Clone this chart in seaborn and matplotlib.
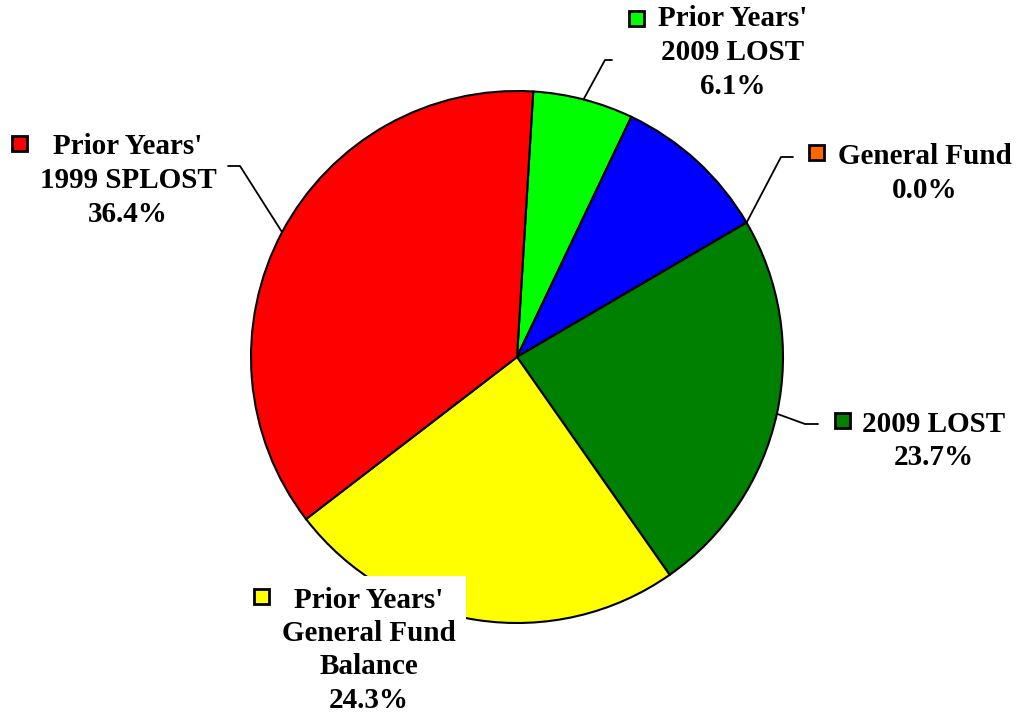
import matplotlib
matplotlib.use("Agg")
import matplotlib.pyplot as plt
import seaborn as sns
import numpy as np
from matplotlib.patches import Rectangle
from matplotlib.lines import Line2D

# Funding sources (percent of total), clockwise from the top
sources = ["Prior Years'\n2009 LOST", "Other", "General Fund", "2009 LOST",
           "Prior Years'\nGeneral Fund\nBalance", "Prior Years'\n1999 SPLOST"]
shares = [6.1, 9.5, 0.0, 23.7, 24.3, 36.4]
show_label = [True, False, True, True, True, True]
colors = ["#00FF00", "#0000FF", "#FF6600", "#008000", "#FFFF00", "#FF0000"]

sns.set_style("white")
plt.rcParams["font.family"] = ["Liberation Serif", "DejaVu Serif"]

W, H = 1016, 715
fig = plt.figure(figsize=(W / 100, H / 100), dpi=100)
fig.patch.set_facecolor("white")


def px(x, y):
    """Pixel position (origin top-left) to figure fraction."""
    return x / W, 1 - y / H


cx, cy, r = 517, 357, 266
ax = fig.add_axes([(cx - r) / W, (H - cy - r) / H, 2 * r / W, 2 * r / H])
wedges, _ = ax.pie(shares, colors=colors, startangle=86.5, counterclock=False,
                   wedgeprops=dict(edgecolor="black", linewidth=1.5))
ax.set_xlim(-1, 1)
ax.set_ylim(-1, 1)
ax.axis("off")

# label layout: marker centre, text centre x, first line centre y, leader knee/end
layout = {
    0: dict(marker=(636, 18), tx=733, ty=17, knee=(605, 60), end=(612, 60)),
    2: dict(marker=(816, 152), tx=925, ty=155, knee=(781, 157), end=(793, 157)),
    3: dict(marker=(842, 420), tx=934, ty=422, knee=(805, 424), end=(818, 424)),
    4: dict(marker=(261, 596), tx=369, ty=598, knee=None, end=None, box=(245, 576, 466, 715)),
    5: dict(marker=(19, 143), tx=128, ty=145, knee=(240, 166), end=(228, 166)),
}

fs = 21
line_gap = 33.5
for i, (name, val) in enumerate(zip(sources, shares)):
    if not show_label[i]:
        continue
    lay = layout[i]
    w = wedges[i]
    mid = np.deg2rad((w.theta1 + w.theta2) / 2)
    edge_disp = ax.transData.transform((np.cos(mid), np.sin(mid)))
    edge_fig = fig.transFigure.inverted().transform(edge_disp)

    if "box" in lay:
        x0, y0, x1, y1 = lay["box"]
        fx0, fy1 = px(x0, y0)
        fx1, fy0 = px(x1, y1)
        fig.patches.append(Rectangle((fx0, fy0), fx1 - fx0, fy1 - fy0,
                                     transform=fig.transFigure, facecolor="white",
                                     edgecolor="none", zorder=5))

    if lay["knee"] is not None:
        kx, ky = px(*lay["knee"])
        ex, ey = px(*lay["end"])
        fig.lines.append(Line2D([edge_fig[0], kx, ex], [edge_fig[1], ky, ey],
                                transform=fig.transFigure, color="black",
                                linewidth=1.3, zorder=6))

    mx, my = lay["marker"]
    s = 15
    fx, fy = px(mx - s / 2, my + s / 2)
    fig.patches.append(Rectangle((fx, fy), s / W, s / H, transform=fig.transFigure,
                                 facecolor=colors[i], edgecolor="black",
                                 linewidth=2.0, zorder=7))

    lines = name.split("\n") + [f"{val:.1f}%"]
    for k, line in enumerate(lines):
        tx, ty = px(lay["tx"], lay["ty"] + k * line_gap + 9.5)
        fig.text(tx, ty, line, ha="center", va="baseline", fontsize=fs,
                 fontweight="bold", color="black", zorder=8)

fig.savefig("out.png", dpi=100, facecolor="white")
